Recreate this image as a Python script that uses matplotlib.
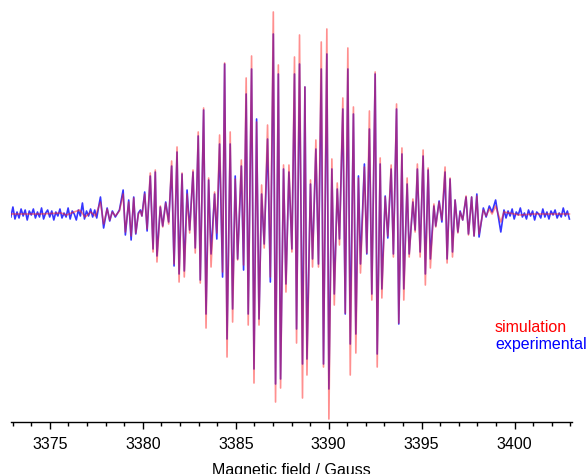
import matplotlib
matplotlib.use("Agg")
import numpy as np
import matplotlib.pyplot as plt
from matplotlib.ticker import MultipleLocator

plt.rcParams['font.family'] = ['Liberation Sans', 'DejaVu Sans']

# --- data (field in Gauss, intensity in a.u.) ---
# noisy baseline of the experimental trace, left side
left_field = [3372.90, 3373.01, 3373.12, 3373.23, 3373.34, 3373.45, 3373.56, 3373.67,
              3373.78, 3373.89, 3374.00, 3374.11, 3374.22, 3374.33, 3374.44, 3374.55,
              3374.66, 3374.77, 3374.88, 3374.99, 3375.10, 3375.21, 3375.32, 3375.43,
              3375.54, 3375.65, 3375.76, 3375.87, 3375.98, 3376.09, 3376.20, 3376.31,
              3376.42, 3376.53, 3376.64, 3376.75, 3376.86, 3376.97, 3377.08, 3377.19,
              3377.30, 3377.41, 3377.52, 3377.63]
left_exp = [-3, 7, -5, 2, -4, 5, -2, 4, -6, 3, -1, 5, -4, 2, -3, 6, -5, 1, 4, -3, 3, -6,
            2, -2, 5, -4, 1, -3, 6, -5, 3, 0, -6, 4, -2, 11, -5, 3, -2, 5, -3, 4, -4, 8]

# hyperfine extrema, central part
mid_field = [3377.72, 3377.89, 3378.08, 3378.22, 3378.36, 3378.52, 3378.74, 3378.94,
             3379.06, 3379.24, 3379.37, 3379.51, 3379.62, 3379.76, 3379.87, 3379.95,
             3380.10, 3380.23, 3380.40, 3380.55, 3380.67, 3380.76, 3380.94, 3381.07,
             3381.23, 3381.39, 3381.55, 3381.68, 3381.84, 3381.95, 3382.11, 3382.23,
             3382.38, 3382.52, 3382.70, 3382.82, 3382.98, 3383.09, 3383.27, 3383.40,
             3383.54, 3383.67, 3383.86, 3383.98, 3384.13, 3384.29, 3384.40, 3384.53,
             3384.70, 3384.83, 3384.97, 3385.10, 3385.30, 3385.42, 3385.56, 3385.67,
             3385.85, 3385.98, 3386.12, 3386.25, 3386.39, 3386.53, 3386.71, 3386.86,
             3387.02, 3387.14, 3387.29, 3387.41, 3387.57, 3387.70, 3387.86, 3388.02,
             3388.16, 3388.27, 3388.43, 3388.59, 3388.72, 3388.83, 3389.02, 3389.13,
             3389.31, 3389.45, 3389.60, 3389.72, 3389.90, 3390.01, 3390.17, 3390.30,
             3390.46, 3390.58, 3390.76, 3390.89, 3391.03, 3391.16, 3391.33, 3391.46,
             3391.60, 3391.71, 3391.92, 3392.05, 3392.19, 3392.32, 3392.50, 3392.61,
             3392.77, 3392.86, 3393.04, 3393.18, 3393.36, 3393.48, 3393.65, 3393.77,
             3393.94, 3394.04, 3394.22, 3394.33, 3394.53, 3394.65, 3394.77, 3394.92,
             3395.08, 3395.20, 3395.35, 3395.47, 3395.66, 3395.76, 3395.94, 3396.09,
             3396.26, 3396.37, 3396.53, 3396.66, 3396.80, 3396.95, 3397.07, 3397.21,
             3397.39, 3397.52, 3397.69, 3397.82, 3397.97, 3398.09, 3398.32, 3398.47,
             3398.64, 3398.79, 3398.98, 3399.26, 3399.43]
mid_sim = [12, -10, 5, -6, 2, -2, 3, 20, -18, 12, -22, 16, -19, 0, 3, -2,
           20, -15, 41, -38, 44, -48, 8, -13, 11, -10, 53, -50, 67, -68, 41, -63,
           20, -19, 44, -39, 82, -69, 106, -114, 36, -53, 22, -19, 79, -58,
           151, -143, 82, -108, 35, -46, 54, -51, 136, -111, 158, -169, 92, -111,
           29, -34, 89, -63, 202, -188, 149, -174, 49, -78, 49, -38, 157, -129,
           179, -184, 127, -161, 34, -53, 74, -53, 172, -153, 185, -205, 55, -91,
           31, -31, 116, -99, 166, -161, 107, -139, 36, -59, 47, -39, 103, -86,
           142, -153, 56, -84, 17, -22, 49, -43, 110, -109, 66, -86, 36, -43,
           15, -18, 50, -43, 64, -71, 46, -54, 10, -13, 12, -6, 47, -49, 36, -43,
           14, -19, 2, -6, 18, -21, 17, -22, 18, -20, 4, -2, 5, 0, 8, -8, 2]
mid_exp = [17, -14, 6, -7, 3, -3, 4, 24, -21, 14, -26, 17, -20, 1, 4, -2,
           22, -17, 38, -35, 42, -42, 7, -12, 12, -8, 48, -52, 62, -60, 40, -57,
           24, -16, 42, -34, 78, -66, 104, -100, 34, -40, 20, -25, 70, -63,
           150, -125, 70, -95, 38, -45, 48, -56, 120, -100, 145, -155, 95, -105,
           20, -30, 75, -68, 180, -170, 140, -165, 45, -70, 42, -35, 140, -115,
           150, -150, 127, -145, 30, -45, 65, -50, 145, -150, 160, -175, 45, -80,
           25, -25, 105, -100, 145, -130, 100, -120, 38, -50, 50, -40, 85, -80,
           140, -140, 50, -75, 18, -24, 45, -40, 105, -110, 60, -75, 30, -40,
           12, -16, 45, -38, 58, -60, 44, -45, 8, -12, 13, -8, 42, -45, 35, -38,
           14, -18, 3, -6, 17, -20, 17, -22, 20, -23, 6, -3, 8, 2, 14, -18, 4]

# noisy baseline of the experimental trace, right side
right_field = [3399.54, 3399.65, 3399.76, 3399.87, 3399.98, 3400.09, 3400.20, 3400.31,
               3400.42, 3400.53, 3400.64, 3400.75, 3400.86, 3400.97, 3401.08, 3401.19,
               3401.30, 3401.41, 3401.52, 3401.63, 3401.74, 3401.85, 3401.96, 3402.07,
               3402.18, 3402.29, 3402.40, 3402.51, 3402.62, 3402.73, 3402.84, 3402.95]
right_exp = [-4, 3, -2, 5, -5, 2, -1, 6, -3, 1, -5, 4, -2, 3, -6, 2,
             0, -4, 5, -3, 2, -5, 3, -1, 4, -4, 1, -3, 6, -2, 3, -5]

# simulated trace outside the central part
sim_left_field = [3372.90, 3374.50, 3375.60, 3375.90, 3376.30, 3376.60, 3376.90, 3377.20, 3377.45]
sim_left = [0, 0, 1, -1, 2, 4, -3, 2, -2]
sim_right_field = [3399.70, 3400.30, 3401.00, 3402.95]
sim_right = [1, -1, 0, 0]

exp_field = left_field + mid_field + right_field
exp_int = left_exp + mid_exp + right_exp
sim_field = sim_left_field + mid_field + sim_right_field
sim_int = sim_left + mid_sim + sim_right

# --- figure ---
fig = plt.figure(figsize=(5.88, 4.74), dpi=100)
ax = fig.add_axes([10.5 / 588, 1 - 422 / 474, (572 - 10.5) / 588, (422 - 5) / 474])

ax.plot(exp_field, exp_int, color='#2020ff', lw=1.2, alpha=0.9)
ax.plot(sim_field, sim_int, color='#ff2020', lw=1.2, alpha=0.5)

ax.set_xlim(3372.88, 3403.09)
ax.set_ylim(-208, 209)

for s in ['top', 'right', 'left']:
    ax.spines[s].set_visible(False)
ax.spines['bottom'].set_linewidth(1.0)
ax.set_yticks([])

ax.xaxis.set_major_locator(MultipleLocator(5))
ax.xaxis.set_minor_locator(MultipleLocator(1))
ax.tick_params(axis='x', which='major', direction='out', length=5, width=1.0,
               labelsize=11.5, pad=6)
ax.tick_params(axis='x', which='minor', direction='out', length=3, width=1.0)
ax.set_xlabel('Magnetic field / Gauss', fontsize=11.5, labelpad=8)

fig.text(495 / 588, 1 - 328 / 474, 'simulation', color='#ff0000', fontsize=11.5, va='center')
fig.text(495 / 588, 1 - 345 / 474, 'experimental', color='#0000ff', fontsize=11.5, va='center')

fig.savefig('out.png', dpi=100)
